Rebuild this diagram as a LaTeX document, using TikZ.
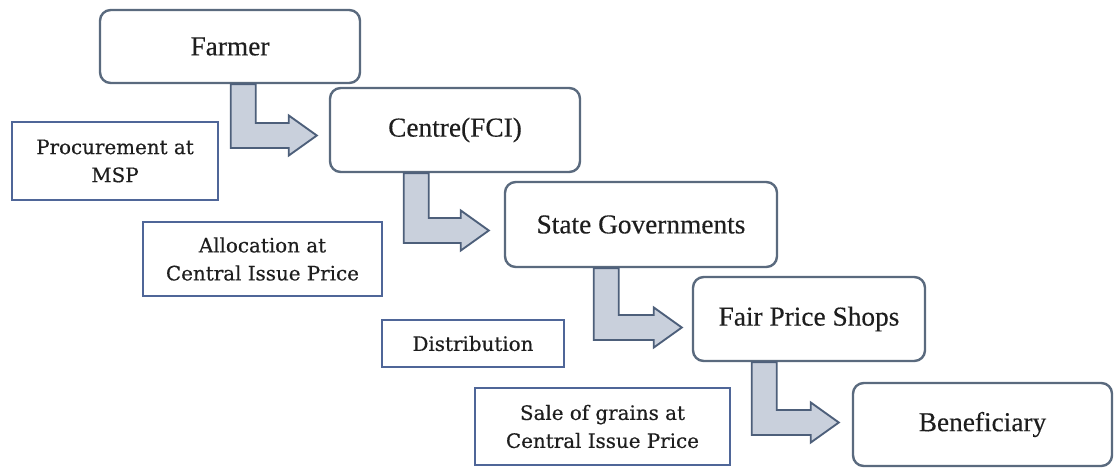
\documentclass[tikz,border=0pt]{standalone}
\usepackage{fontspec}
\setmainfont{Liberation Serif}[FakeBold=0.3]
\newfontfamily\labelfont{DejaVu Serif}[FakeBold=0.5]
\usetikzlibrary{calc}

\definecolor{boxline}{HTML}{5A6A7E}
\definecolor{labelline}{HTML}{4F6698}
\definecolor{arrowline}{HTML}{4D5F7A}
\definecolor{arrowfill}{HTML}{C9D0DC}
\definecolor{inktext}{HTML}{1E1E1E}

% L-shaped block arrow: vertical shaft from #1 down, then right to the tip #2
\newcommand{\bentarrow}[2]{%
  \draw[flowarrow] let \p1=(#1), \p2=(#2) in
    (\x1,\y1) -- (\x1+18.75pt,\y1) -- (\x1+18.75pt,\y2+9.375pt)
    -- (\x2-21pt,\y2+9.375pt) -- (\x2-21pt,\y2+15pt) -- (\x2,\y2)
    -- (\x2-21pt,\y2-15pt) -- (\x2-21pt,\y2-9.375pt) -- (\x1,\y2-9.375pt)
    -- cycle;}

\begin{document}
\begin{tikzpicture}[x=0.75pt,y=-0.75pt,
  stage/.style={draw=boxline, line width=1.8pt, rounded corners=8pt, fill=white,
    inner sep=0pt, text=inktext, font=\fontsize{20.5}{24}\selectfont},
  note/.style={draw=labelline, line width=2.0pt, fill=white, inner sep=0pt,
    align=center, text=inktext, font=\labelfont\fontsize{14.9}{21}\selectfont},
  flowarrow/.style={draw=arrowline, fill=arrowfill, line width=1.4pt, line join=miter}]
\useasboundingbox (0,0) rectangle (1114,468);

% process stages
\node[stage, minimum width=195pt, minimum height=54.75pt] (farmer) at (230,46.5) {\raisebox{-4pt}{Farmer}};
\node[stage, minimum width=187.5pt, minimum height=63pt] (centre) at (455,130) {Centre(FCI)};
\node[stage, minimum width=204pt, minimum height=63.75pt] (state) at (641,224.5) {State Governments};
\node[stage, minimum width=174pt, minimum height=63pt] (fps) at (809,319) {Fair Price Shops};
\node[stage, minimum width=194.25pt, minimum height=62.25pt] (benef) at (982.5,424.5) {Beneficiary};

% descriptions of each step
\node[note, minimum width=154.5pt, minimum height=58.5pt] (proc) at (115,161) {Procurement at\\MSP};
\node[note, minimum width=179.25pt, minimum height=55.5pt] (alloc) at (262.5,259) {Allocation at\\Central Issue Price};
\node[note, minimum width=136.5pt, minimum height=35.25pt] (dist) at (473,343.5) {Distribution};
\node[note, minimum width=191.25pt, minimum height=57.75pt] (sale) at (602.5,426.5) {Sale of grains at\\Central Issue Price};

% block arrows between stages
\coordinate (a1s) at ($(farmer.south west)+(132,0)$);
\coordinate (a1t) at ($(centre.west)+(-12,5.5)$);
\coordinate (a2s) at ($(centre.south west)+(75,0)$);
\coordinate (a2t) at ($(state.west)+(-15,6)$);
\coordinate (a3s) at ($(state.south west)+(90,0)$);
\coordinate (a3t) at ($(fps.west)+(-10,8.5)$);
\coordinate (a4s) at ($(fps.south west)+(60,0)$);
\coordinate (a4t) at ($(benef.west)+(-13,-2)$);
\bentarrow{a1s}{a1t}
\bentarrow{a2s}{a2t}
\bentarrow{a3s}{a3t}
\bentarrow{a4s}{a4t}
\end{tikzpicture}
\end{document}
